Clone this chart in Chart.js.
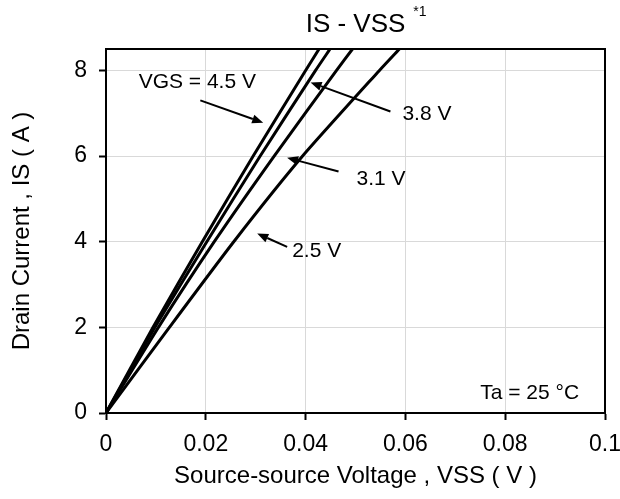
<!DOCTYPE html>
<html>
<head>
<meta charset="utf-8">
<script src="https://cdn.jsdelivr.net/npm/chart.js@4.4.1/dist/chart.umd.min.js"></script>
<style>
html,body{margin:0;padding:0;background:#fff;}
#wrap{width:620px;height:499px;}
</style>
</head>
<body>
<div id="wrap"><canvas id="c" width="620" height="499"></canvas></div>
<script>
// Drain current IS (A) sample levels
const isLevels = [0, 2, 4, 6, 8, 8.5];
// VSS (V) per gate voltage curve
const vss45 = [0, 0.0094, 0.0193, 0.0295, 0.0400, 0.0427];
const vss38 = [0, 0.0098, 0.0202, 0.0309, 0.0420, 0.0449];
const vss31 = [0, 0.0105, 0.0217, 0.0337, 0.0462, 0.0494];
const vss25 = [0, 0.0127, 0.0256, 0.0394, 0.0548, 0.0588];
const seriesNames = ['VGS = 4.5 V', '3.8 V', '3.1 V', '2.5 V'];
const xTickValues = [0, 0.02, 0.04, 0.06, 0.08, 0.1];
const xTickLabels = ['0', '0.02', '0.04', '0.06', '0.08', '0.1'];
const yTickValues = [0, 2, 4, 6, 8];
const yTickLabels = ['0', '2', '4', '6', '8'];

const FONT = '"Liberation Sans", Arial, sans-serif';

function pts(xs) { return xs.map((x, i) => ({ x: x, y: isLevels[i] })); }

const allSeries = [vss45, vss38, vss31, vss25];
const datasets = allSeries.map((s, i) => ({
  label: seriesNames[i],
  data: pts(s),
  borderColor: '#000',
  borderWidth: 3,
  pointRadius: 0,
  showLine: true,
  fill: false,
  tension: 0.2
}));

// annotations: label text in data coords, arrows from -> to in data coords
const annotations = [
  { text: 'VGS = 4.5 V', tx: 0.0183, ty: 7.73, align: 'center', ax1: 0.0189, ay1: 7.30, ax2: 0.0315, ay2: 6.78 },
  { text: '3.8 V', tx: 0.0594, ty: 6.97, align: 'left', ax1: 0.0570, ay1: 7.04, ax2: 0.0410, ay2: 7.72 },
  { text: '3.1 V', tx: 0.0502, ty: 5.45, align: 'left', ax1: 0.0466, ay1: 5.64, ax2: 0.0363, ay2: 5.96 },
  { text: '2.5 V', tx: 0.0373, ty: 3.77, align: 'left', ax1: 0.0363, ay1: 3.88, ax2: 0.0303, ay2: 4.19 }
];

const annoPlugin = {
  id: 'anno',
  afterDraw(chart) {
    const ctx = chart.ctx;
    const xs = chart.scales.x, ys = chart.scales.y;
    const a = chart.chartArea;
    ctx.save();
    // frame
    ctx.strokeStyle = '#000';
    ctx.lineWidth = 2;
    ctx.strokeRect(a.left, a.top, a.right - a.left, a.bottom - a.top);
    ctx.fillStyle = '#000';
    ctx.font = '21px ' + FONT;
    ctx.textBaseline = 'middle';
    annotations.forEach(an => {
      ctx.textAlign = an.align;
      ctx.fillText(an.text, xs.getPixelForValue(an.tx), ys.getPixelForValue(an.ty));
      const x1 = xs.getPixelForValue(an.ax1), y1 = ys.getPixelForValue(an.ay1);
      const x2 = xs.getPixelForValue(an.ax2), y2 = ys.getPixelForValue(an.ay2);
      const ang = Math.atan2(y2 - y1, x2 - x1);
      const hl = 11, hw = 4.5;
      const bx = x2 - hl * Math.cos(ang), by = y2 - hl * Math.sin(ang);
      ctx.beginPath();
      ctx.moveTo(x1, y1);
      ctx.lineTo(bx, by);
      ctx.lineWidth = 2;
      ctx.stroke();
      ctx.beginPath();
      ctx.moveTo(x2, y2);
      ctx.lineTo(bx + hw * Math.sin(ang), by - hw * Math.cos(ang));
      ctx.lineTo(bx - hw * Math.sin(ang), by + hw * Math.cos(ang));
      ctx.closePath();
      ctx.fill();
    });
    // Ta note
    ctx.textAlign = 'right';
    ctx.fillText('Ta = 25 °C', xs.getPixelForValue(0.0948), ys.getPixelForValue(0.47));
    // title with superscript
    ctx.font = '26px ' + FONT;
    ctx.textAlign = 'center';
    const t = 'IS - VSS';
    const cx = (a.left + a.right) / 2;
    ctx.fillText(t, cx, 25);
    const w = ctx.measureText(t).width;
    ctx.font = '14px ' + FONT;
    ctx.textAlign = 'left';
    ctx.fillText('*1', cx + w / 2 + 8, 12);
    ctx.restore();
  }
};

new Chart(document.getElementById('c'), {
  type: 'scatter',
  data: { datasets },
  options: {
    responsive: false,
    animation: false,
    devicePixelRatio: 1,
    layout: { padding: { top: 49, right: 15, left: 0, bottom: 0 } },
    plugins: { legend: { display: false }, tooltip: { enabled: false }, title: { display: false } },
    scales: {
      x: {
        type: 'linear',
        min: 0, max: 0.1,
        afterBuildTicks(s) { s.ticks = xTickValues.map(v => ({ value: v })); },
        afterFit(s) { s.height = 86; s.paddingRight = 0; s.paddingLeft = 0; },
        ticks: {
          color: '#000',
          font: { family: FONT, size: 23 },
          padding: 11,
          maxRotation: 0,
          callback: (v) => { const i = xTickValues.findIndex(t => Math.abs(t - v) < 1e-9); return i >= 0 ? xTickLabels[i] : ''; }
        },
        grid: { color: '#d9d9d9', lineWidth: 1, tickLength: 7, tickColor: '#000', tickWidth: 2 },
        border: { display: true, color: '#000', width: 2 },
        title: { display: true, text: 'Source-source Voltage , VSS ( V )', color: '#000', font: { family: FONT, size: 24 }, padding: { top: 0, bottom: 8 } }
      },
      y: {
        type: 'linear',
        min: 0, max: 8.5,
        afterBuildTicks(s) { s.ticks = yTickValues.map(v => ({ value: v })); },
        afterFit(s) { s.width = 106; s.paddingTop = 0; s.paddingBottom = 0; },
        ticks: {
          color: '#000',
          font: { family: FONT, size: 23 },
          padding: 12,
          callback: (v) => { const i = yTickValues.indexOf(v); return i >= 0 ? yTickLabels[i] : ''; }
        },
        grid: { color: '#d9d9d9', lineWidth: 1, tickLength: 7, tickColor: '#000', tickWidth: 2 },
        border: { display: true, color: '#000', width: 2 },
        title: { display: true, text: 'Drain Current , IS ( A )', color: '#000', font: { family: FONT, size: 24 }, padding: { top: 8, bottom: 0 } }
      }
    }
  },
  plugins: [annoPlugin]
});
</script>
</body>
</html>
